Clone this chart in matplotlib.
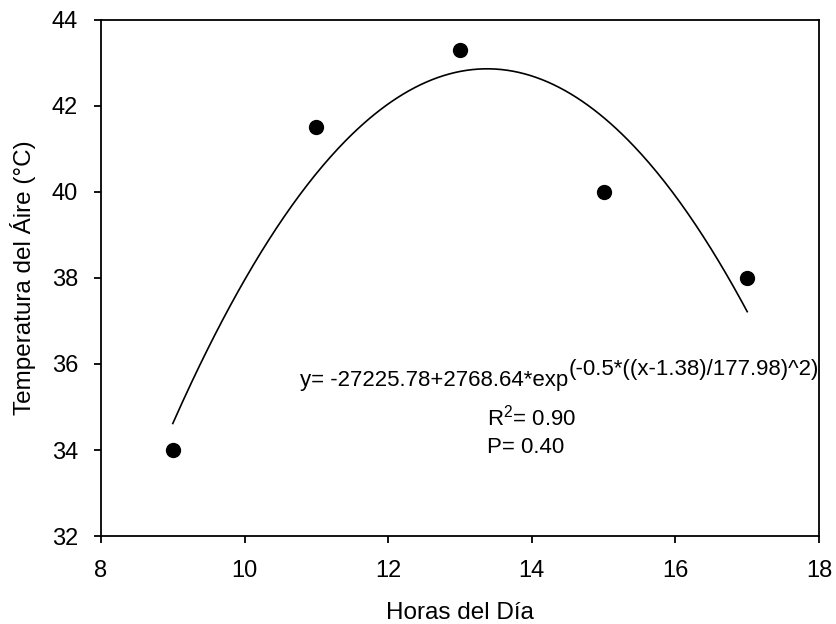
import numpy as np
import matplotlib
matplotlib.use("Agg")
import matplotlib.pyplot as plt

plt.rcParams['font.family'] = ['Liberation Sans', 'DejaVu Sans']
plt.rcParams['mathtext.fontset'] = 'custom'
plt.rcParams['mathtext.rm'] = 'Liberation Sans'
plt.rcParams['mathtext.it'] = 'Liberation Sans'

# Observed air temperature by hour of day
hours = [9, 11, 13, 15, 17]
temp = [34.0, 41.5, 43.3, 40.0, 38.0]

x_ticks = [8, 10, 12, 14, 16, 18]
y_ticks = [32, 34, 36, 38, 40, 42, 44]

eq_main = "y= -27225.78+2768.64*exp"
eq_exp = "(-0.5*((x-1.38)/177.98)^2)"
r2_text = "R$^{2}$= 0.90"
p_text = "P= 0.40"

fig = plt.figure(figsize=(8.36, 6.24), dpi=100)
ax = fig.add_axes([0.1208, 0.141, 0.8589, 0.827])

# Peak-shaped fit through the observations
coef = np.polyfit(hours, temp, 2)
xf = np.linspace(min(hours), max(hours), 300)
ax.plot(xf, np.polyval(coef, xf), color='black', lw=1.2)
ax.plot(hours, temp, 'o', color='black', ms=10, zorder=3)

ax.set_xlim(8, 18)
ax.set_ylim(32, 44)
ax.set_xticks(x_ticks)
ax.set_yticks(y_ticks)
ax.tick_params(direction='out', length=5, width=1.3, labelsize=17)
ax.tick_params(axis='x', pad=12)
ax.tick_params(axis='y', pad=11.5)
for s in ax.spines.values():
    s.set_linewidth(1.3)

ax.set_xlabel("Horas del Día", fontsize=17.5, labelpad=15)
ax.set_ylabel("Temperatura del Áire (°C)", fontsize=17.5, labelpad=11)

t = ax.text(0.277, 0.2907, eq_main, transform=ax.transAxes, fontsize=16,
            ha='left', va='baseline')
ax.annotate(eq_exp, xy=(1.0, 0.0), xycoords=t, xytext=(0, 8),
            textcoords='offset points', fontsize=16, ha='left', va='bottom',
            annotation_clip=False)
ax.text(0.5376, 0.2132, r2_text, transform=ax.transAxes, fontsize=16,
        ha='left', va='baseline')
ax.text(0.5376, 0.1609, p_text, transform=ax.transAxes, fontsize=16,
        ha='left', va='baseline')

fig.savefig("out.png", dpi=100)
